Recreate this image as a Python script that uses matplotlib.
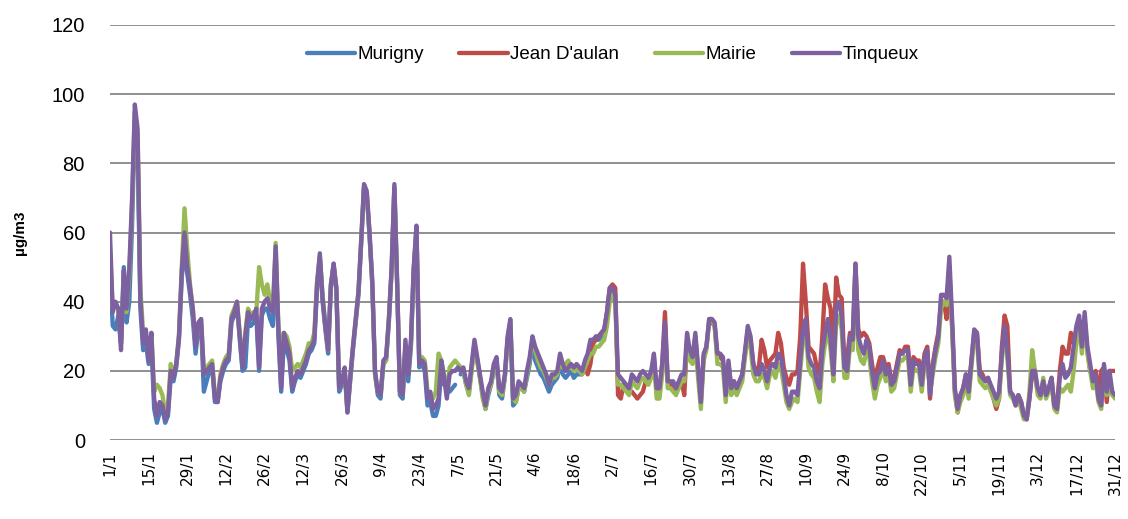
import matplotlib.pyplot as plt
import numpy as np

###########################
# Données (µg/m3, journalier)
###########################

nan = np.nan

tick_labels = ["1/1", "15/1", "29/1", "12/2", "26/2", "12/3", "26/3", "9/4", "23/4",
               "7/5", "21/5", "4/6", "18/6", "2/7", "16/7", "30/7", "13/8", "27/8",
               "10/9", "24/9", "8/10", "22/10", "5/11", "19/11", "3/12", "17/12", "31/12"]

tinqueux = [
    60, 37, 40, 38, 26, 49, 38, 50, 70, 97,
    90, 41, 28, 32, 23, 31, 12, 7, 11, 10,
    6, 8, 20, 18, 22, 30, 49, 60, 50, 44,
    38, 27, 34, 35, 19, 20, 21, 22, 12, 11,
    18, 21, 23, 24, 35, 37, 40, 30, 21, 30,
    37, 35, 36, 38, 21, 38, 40, 41, 38, 37,
    56, 32, 15, 31, 28, 25, 15, 18, 20, 19,
    21, 23, 26, 27, 29, 45, 54, 41, 33, 26,
    45, 51, 44, 15, 17, 21, 8, 18, 27, 35,
    43, 58, 74, 72, 60, 46, 20, 14, 13, 23,
    24, 35, 50, 74, 46, 14, 13, 29, 19, 29,
    50, 62, 22, 23, 22, 12, 14, 9, 10, 12,
    23, 18, 12, 19, 20, 20, 21, 20, 21, 17,
    15, 22, 29, 24, 19, 14, 10, 15, 17, 22,
    24, 15, 14, 19, 30, 35, 12, 13, 17, 16,
    15, 20, 24, 30, 27, 25, 23, 21, 19, 16,
    19, 19, 20, 25, 22, 20, 21, 22, 21, 22,
    21, 20, 23, 25, 29, 29, 30, 30, 31, 32,
    37, 44, 44, 42, 19, 18, 17, 16, 15, 19,
    18, 17, 19, 20, 19, 18, 20, 25, 15, 15,
    22, 34, 17, 17, 17, 15, 17, 19, 19, 31,
    26, 24, 31, 21, 11, 25, 27, 35, 35, 34,
    25, 25, 24, 13, 23, 15, 17, 15, 17, 19,
    26, 33, 30, 22, 19, 19, 22, 20, 17, 21,
    22, 21, 25, 24, 19, 13, 10, 14, 14, 13,
    23, 32, 35, 24, 22, 21, 17, 15, 26, 31,
    35, 29, 19, 38, 40, 36, 21, 20, 30, 29,
    51, 30, 27, 25, 29, 27, 20, 15, 19, 20,
    23, 19, 21, 16, 17, 21, 25, 25, 26, 26,
    16, 23, 22, 22, 16, 24, 26, 13, 21, 26,
    30, 42, 42, 41, 53, 35, 15, 9, 13, 15,
    19, 14, 23, 32, 31, 19, 18, 17, 18, 16,
    14, 12, 14, 25, 33, 26, 14, 13, 10, 13,
    11, 7, 6, 12, 20, 20, 15, 13, 17, 13,
    15, 18, 10, 9, 18, 22, 18, 19, 21, 27,
    33, 36, 27, 37, 27, 22, 17, 19, 12, 10,
    22, 14, 20, 14, 13,
]

mairie = [
    55, 38, 39, 38, 28, 46, 37, 48, 68, 95,
    88, 44, 31, 31, 25, 31, 14, 16, 15, 13,
    8, 10, 22, 19, 22, 31, 50, 67, 55, 45,
    38, 28, 33, 35, 20, 21, 22, 23, 13, 12,
    19, 22, 24, 25, 36, 38, 40, 31, 22, 31,
    38, 36, 37, 37, 50, 45, 42, 45, 40, 38,
    57, 33, 26, 31, 30, 27, 20, 21, 22, 21,
    23, 25, 28, 28, 31, 46, 53, 42, 33, 26,
    45, 50, 44, 15, 17, 20, 9, 18, 27, 35,
    43, 58, 73, 71, 60, 45, 19, 14, 13, 22,
    23, 35, 49, 73, 45, 14, 13, 27, 20, 28,
    49, 61, 23, 24, 23, 14, 13, 12, 14, 25,
    23, 19, 13, 21, 22, 23, 22, 21, 20, 16,
    13, 20, 27, 23, 18, 12, 9, 14, 16, 21,
    22, 14, 13, 18, 29, 34, 12, 11, 15, 15,
    14, 19, 23, 29, 26, 23, 21, 20, 18, 16,
    18, 18, 19, 23, 21, 22, 23, 21, 20, 21,
    20, 19, 21, 23, 25, 25, 27, 27, 28, 29,
    33, 40, 42, 40, 16, 16, 15, 14, 13, 17,
    16, 15, 17, 18, 17, 16, 18, 22, 12, 12,
    19, 31, 15, 15, 14, 13, 15, 17, 17, 28,
    23, 22, 28, 18, 9, 23, 26, 35, 35, 33,
    22, 22, 21, 11, 20, 13, 15, 13, 15, 17,
    24, 30, 27, 19, 17, 17, 19, 18, 15, 19,
    20, 18, 22, 21, 16, 11, 9, 11, 12, 11,
    20, 29, 32, 21, 19, 18, 14, 11, 22, 28,
    32, 26, 17, 34, 36, 32, 18, 18, 27, 26,
    48, 26, 23, 22, 26, 24, 17, 12, 16, 18,
    21, 17, 19, 14, 15, 19, 23, 23, 24, 24,
    14, 21, 20, 20, 14, 22, 24, 14, 19, 24,
    28, 38, 40, 39, 50, 32, 13, 8, 11, 13,
    17, 12, 21, 30, 29, 17, 16, 15, 16, 14,
    12, 10, 12, 23, 31, 24, 13, 12, 10, 12,
    9, 6, 6, 14, 26, 20, 13, 12, 18, 12,
    14, 16, 9, 8, 15, 14, 15, 16, 14, 20,
    28, 33, 25, 35, 25, 20, 15, 17, 11, 9,
    20, 13, 18, 13, 12,
]

# Murigny : mesures jusqu'au 30/6 seulement
murigny = [
    48, 33, 32, 36, 28, 50, 34, 40, 62, 92,
    85, 38, 26, 28, 22, 28, 9, 5, 8, 9,
    5, 7, 18, 17, 21, 29, 47, 55, 48, 42,
    35, 25, 32, 33, 14, 17, 20, 21, 11, 11,
    17, 20, 22, 23, 34, 36, 39, 29, 20, 21,
    35, 33, 34, 36, 20, 36, 38, 38, 35, 33,
    54, 30, 14, 29, 26, 23, 14, 17, 19, 18,
    20, 22, 25, 26, 28, 44, 53, 40, 32, 25,
    44, 51, 43, 14, 16, 20, 8, 17, 26, 34,
    42, 57, 73, 71, 59, 45, 19, 13, 12, 22,
    23, 34, 49, 73, 45, 13, 12, 27, 17, 27,
    49, 61, 21, 22, 20, 10, 11, 7, 7, 10,
    21, 16, nan, 14, 15, 16, nan, 19, 20, 16,
    14, 21, 28, 23, 18, 13, 9, 13, 16, 20,
    23, 13, 12, 18, 29, 34, 10, 11, 15, 15,
    14, 18, 22, 28, 23, 21, 19, 18, 16, 14,
    16, 17, 18, 22, 19, 18, 19, 20, 18, 19,
    19, 19, 22, 24, 28, 29, 29, 29, 30, 31,
    36, 43,
] + [nan] * 183

# Jean D'aulan : mesures à partir du 22/6
jean_daulan = [nan] * 172 + [
    22, 19, 22, 28, 29, 30, 31, 32,
    37, 44, 45, 44, 13, 12, 16, 15, 14, 14,
    13, 12, 13, 14, 17, 17, 19, 24, 14, 14,
    22, 37, 17, 16, 16, 14, 16, 17, 13, 29,
    25, 23, 30, 20, 11, 24, 27, 34, 34, 33,
    24, 24, 23, 14, 22, 15, 17, 15, 17, 19,
    25, 32, 29, 22, 20, 21, 29, 26, 21, 23,
    24, 25, 31, 28, 21, 18, 16, 19, 19, 20,
    30, 51, 40, 27, 26, 25, 21, 19, 30, 45,
    41, 38, 23, 47, 42, 41, 21, 24, 31, 30,
    51, 32, 30, 31, 30, 28, 22, 17, 21, 24,
    24, 21, 22, 17, 18, 22, 26, 25, 27, 27,
    17, 24, 23, 23, 18, 25, 27, 12, 22, 27,
    31, 40, 40, 35, 48, 33, 14, 8, 13, 15,
    19, 15, 23, 31, 31, 20, 19, 17, 18, 15,
    12, 9, 12, 27, 36, 33, 14, 13, 11, 13,
    11, 7, 6, 12, 20, 19, 14, 13, 17, 14,
    15, 18, 10, 10, 20, 27, 25, 25, 31, 28,
    32, 34, 34, 33, 26, 20, 18, 20, 13, 20,
    21, 11, 20, 20, 20,
]

jours = np.arange(len(tinqueux))

###########################
# Tracé
###########################

plt.rcParams['font.family'] = ['Liberation Sans Narrow', 'Liberation Sans', 'DejaVu Sans']

fig = plt.figure(figsize=(11.28, 5.19), dpi=100)
ax = fig.add_axes([0.0975, 0.152, 0.891, 0.8])

series = [
    ("Murigny", murigny, "#4A7EBB"),
    ("Jean D'aulan", jean_daulan, "#BE4B48"),
    ("Mairie", mairie, "#98B954"),
    ("Tinqueux", tinqueux, "#7D60A0"),
]
for nom, valeurs, couleur in series:
    ax.plot(jours, np.array(valeurs, dtype=float), color=couleur, lw=3.1,
            label=nom, solid_joinstyle="round", solid_capstyle="round")

ax.set_xlim(0, 364)
ax.set_ylim(0, 120)
ax.set_yticks(range(0, 121, 20))
ax.set_xticks(range(0, 365, 14))
ax.set_xticklabels(tick_labels, rotation=90, fontsize=11, family="DejaVu Sans")
ax.tick_params(axis="y", labelsize=14.5, length=0, pad=18)
ax.tick_params(axis="x", length=0, pad=8)
ax.grid(axis="y", color="#878787", lw=1.3)
ax.set_axisbelow(True)
for s in ax.spines.values():
    s.set_visible(False)

ax.set_ylabel("µg/m3", fontsize=11, fontweight="bold", labelpad=18)

ax.legend(loc="center", bbox_to_anchor=(0.5, 0.928), ncol=4, frameon=False,
          fontsize=13.5, handlelength=2.6, columnspacing=1.9, handletextpad=0.1)

fig.savefig("out.png", dpi=100)
